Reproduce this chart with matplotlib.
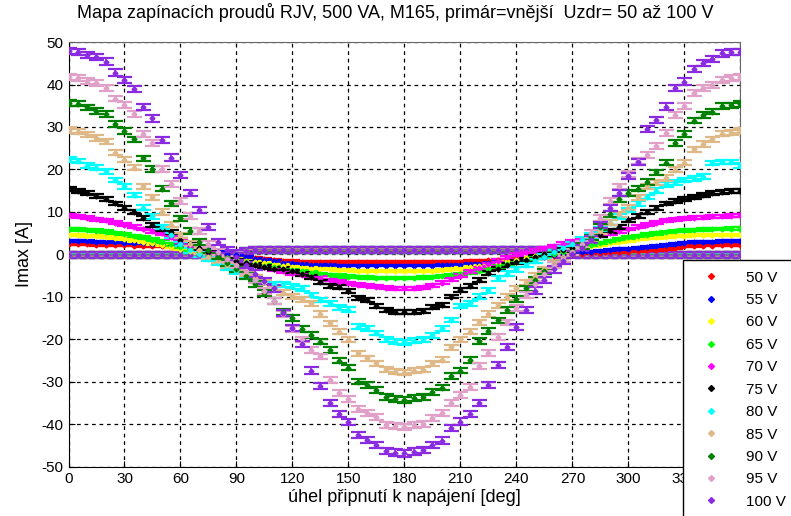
import matplotlib
matplotlib.use("Agg")
import matplotlib.pyplot as plt
from matplotlib.lines import Line2D

plt.rcParams["font.family"] = ["Liberation Sans", "DejaVu Sans"]
plt.rcParams["axes.unicode_minus"] = False

# switching angle [deg]
angle_deg = list(range(0, 361, 5))

# peak inrush current [A] per supply voltage
i_50 = [2.5, 2.4, 2.4, 2.3, 2.3, 2.2, 2.2, 2.1, 2.0, 1.9, 1.9, 1.8, 1.7, 1.4, 1.1, 0.8, 0.5, 0.1, -0.3,
        -0.6, -0.9, -1.1, -1.3, -1.5, -1.6, -1.7, -1.7, -1.7, -1.8, -1.8, -1.8, -1.8, -1.8, -1.8, -1.8,
        -1.8, -1.8, -1.8, -1.8, -1.8, -1.7, -1.7, -1.7, -1.6, -1.5, -1.4, -1.3, -1.2, -1.0, -0.9, -0.7,
        -0.5, -0.3, -0.1, 0.1, 0.2, 0.3, 0.4, 0.5, 0.6, 0.7, 0.8, 1.0, 1.1, 1.3, 1.5, 1.9, 2.0, 2.1,
        2.1, 2.2, 2.2, 2.3]
i_55 = [3.2, 3.1, 3.1, 3.0, 3.0, 2.9, 2.8, 2.7, 2.6, 2.5, 2.4, 2.3, 2.1, 1.8, 1.4, 1.0, 0.6, 0.2, -0.2,
        -0.6, -1.0, -1.3, -1.6, -1.9, -2.1, -2.3, -2.4, -2.5, -2.5, -2.6, -2.6, -2.6, -2.6, -2.6, -2.6,
        -2.6, -2.6, -2.6, -2.6, -2.6, -2.5, -2.5, -2.4, -2.3, -2.2, -2.0, -1.8, -1.6, -1.4, -1.1, -0.8,
        -0.5, -0.2, 0.1, 0.3, 0.5, 0.7, 0.9, 1.1, 1.3, 1.4, 1.6, 1.8, 2.0, 2.2, 2.4, 2.8, 2.9, 3.0,
        3.0, 3.1, 3.1, 3.1]
i_60 = [4.6, 4.5, 4.4, 4.3, 4.1, 3.9, 3.6, 3.3, 3.0, 2.6, 2.2, 1.8, 1.3, 0.9, 0.4, 0.0, -0.4, -0.8,
        -1.1, -1.5, -1.8, -2.1, -2.4, -2.6, -2.9, -3.1, -3.3, -3.4, -3.5, -3.6, -3.7, -3.8, -3.8, -3.9,
        -3.9, -3.9, -3.9, -3.9, -3.8, -3.8, -3.7, -3.5, -3.3, -3.0, -2.7, -2.4, -2.0, -1.6, -1.2, -0.8,
        -0.4, 0.0, 0.4, 0.8, 1.2, 1.6, 2.0, 2.3, 2.7, 3.0, 3.3, 3.6, 3.8, 4.0, 4.2, 4.3, 4.4, 4.5, 4.5,
        4.6, 4.6, 4.6, 4.6]
i_65 = [6.0, 5.9, 5.8, 5.6, 5.4, 5.1, 4.8, 4.4, 4.0, 3.5, 3.0, 2.4, 1.8, 1.2, 0.6, 0.1, -0.4, -0.9,
        -1.3, -1.8, -2.2, -2.6, -3.0, -3.4, -3.7, -4.0, -4.3, -4.6, -4.8, -5.0, -5.2, -5.3, -5.4, -5.5,
        -5.5, -5.5, -5.5, -5.5, -5.4, -5.3, -5.1, -4.9, -4.6, -4.2, -3.8, -3.3, -2.8, -2.3, -1.8, -1.3,
        -0.8, -0.3, 0.2, 0.7, 1.2, 1.7, 2.2, 2.7, 3.2, 3.6, 4.0, 4.4, 4.7, 5.0, 5.3, 5.5, 5.7, 5.8, 5.9,
        6.0, 6.0, 6.1, 6.1]
i_70 = [9.2, 9.0, 8.7, 8.3, 8.0, 7.5, 7.0, 6.5, 6.0, 5.5, 5.0, 4.0, 3.0, 2.0, 1.0, 0.3, -0.3, -1.0,
        -1.5, -2.0, -2.5, -3.0, -3.5, -4.0, -4.4, -4.8, -5.2, -5.5, -6.0, -6.4, -6.8, -7.1, -7.4, -7.6,
        -7.8, -8.0, -8.0, -8.0, -7.7, -7.2, -6.6, -5.8, -5.0, -4.0, -3.2, -2.3, -1.5, -0.7, 0.0, 0.5,
        1.0, 1.5, 2.0, 2.5, 3.0, 3.5, 4.0, 4.5, 5.0, 5.5, 6.0, 6.5, 7.0, 7.5, 8.0, 8.3, 8.5, 8.7, 8.8,
        9.0, 9.0, 9.1, 9.2]
i_75 = [15.5, 15.0, 14.5, 13.8, 13.0, 12.0, 11.0, 10.0, 8.5, 7.0, 6.0, 5.2, 3.5, 2.5, 1.5, 0.5, -0.5,
        -1.0, -1.5, -2.0, -2.5, -3.0, -3.3, -3.3, -4.0, -4.5, -5.2, -6.4, -7.4, -7.7, -8.5, -10.3, -10.7,
        -12.1, -13.1, -13.5, -13.6, -13.5, -13.2, -12.3, -11.9, -9.9, -8.4, -7.4, -6.0, -4.3, -3.3, -2.5,
        -1.8, -1.2, -0.5, 0.0, 0.5, 1.0, 1.5, 2.5, 3.5, 4.5, 5.5, 6.5, 8.0, 9.0, 10.0, 11.0, 12.0, 12.5,
        13.0, 13.5, 14.0, 14.5, 14.8, 15.0, 15.0]
i_80 = [22.4, 22.0, 20.9, 20.4, 19.6, 17.5, 16.0, 14.0, 11.0, 9.0, 6.5, 4.5, 2.5, 1.0, 0.0, -1.0, -2.0,
        -3.0, -4.0, -5.0, -6.0, -6.5, -7.0, -7.0, -7.5, -8.0, -9.5, -10.7, -11.5, -12.4, -13.0, -17.0,
        -17.4, -18.5, -20.0, -20.5, -20.7, -20.3, -20.0, -19.0, -17.4, -15.4, -12.1, -11.5, -9.9, -8.4,
        -5.6, -4.5, -3.5, -2.5, -1.5, -0.5, 0.5, 1.5, 2.5, 3.5, 4.5, 6.0, 7.5, 9.0, 10.5, 12.0, 13.5,
        15.0, 16.5, 17.0, 17.5, 17.9, 18.3, 21.5, 21.8, 21.8, 21.0]
i_85 = [29.3, 28.9, 28.2, 27.4, 26.6, 23.9, 22.3, 20.4, 16.0, 13.5, 10.0, 7.0, 4.5, 2.5, 1.0, -0.5,
        -1.5, -2.5, -3.5, -4.5, -5.5, -6.5, -8.0, -9.0, -9.8, -10.5, -11.5, -14.0, -16.2, -18.2, -20.1,
        -23.2, -24.4, -25.6, -27.0, -27.6, -27.8, -27.3, -27.1, -25.6, -24.8, -21.8, -20.0, -18.2, -16.0,
        -14.0, -12.0, -10.0, -8.0, -6.5, -5.0, -3.5, -2.0, -0.5, 0.5, 2.0, 3.5, 5.5, 7.5, 9.5, 11.0, 13.5,
        16.0, 17.0, 18.0, 19.9, 21.6, 24.8, 26.0, 27.1, 28.4, 28.6, 29.1]
i_90 = [35.7, 35.5, 34.6, 33.8, 33.0, 30.7, 29.1, 27.1, 22.6, 20.1, 15.5, 12.0, 8.5, 5.5, 3.0, 1.0,
        -0.5, -2.0, -3.5, -5.0, -7.0, -9.0, -11.0, -13.5, -15.0, -17.5, -19.0, -20.5, -22.5, -25.0,
        -26.6, -29.9, -30.7, -31.9, -33.5, -34.0, -34.2, -33.8, -33.5, -32.3, -31.3, -28.6, -27.3, -24.8,
        -20.3, -18.0, -15.5, -13.0, -10.5, -8.0, -6.0, -4.0, -2.5, -1.0, 0.5, 2.0, 4.0, 6.5, 9.5, 13.0,
        14.5, 15.5, 17.0, 19.3, 21.6, 26.2, 28.3, 31.5, 32.8, 33.6, 34.9, 35.1, 35.4]
i_95 = [41.8, 41.5, 40.9, 40.3, 39.1, 36.7, 35.2, 33.0, 28.3, 26.2, 20.1, 16.5, 12.5, 9.0, 5.5, 2.5,
        0.5, -1.0, -2.5, -4.0, -6.0, -8.5, -11.0, -14.0, -17.5, -20.0, -22.5, -24.0, -29.5, -32.5, -34.0,
        -36.4, -37.4, -38.3, -40.1, -40.4, -40.5, -40.1, -39.9, -38.5, -37.4, -35.0, -33.0, -31.1, -26.2,
        -23.2, -19.5, -16.0, -12.5, -9.5, -7.0, -4.5, -2.5, -1.0, 0.5, 2.5, 5.0, 8.5, 12.5, 16.0, 19.0,
        22.0, 23.5, 25.5, 28.5, 32.8, 35.0, 37.9, 39.1, 39.9, 41.0, 41.5, 41.8]
i_100 = [47.9, 47.7, 46.9, 46.4, 45.4, 42.8, 41.1, 39.0, 34.7, 32.0, 26.9, 22.8, 18.7, 14.5, 10.5, 6.5,
         3.0, 1.0, -0.5, -2.5, -4.5, -6.2, -8.0, -13.7, -17.3, -21.0, -27.3, -31.0, -34.9, -37.6, -39.4,
         -42.5, -43.6, -44.8, -46.2, -46.6, -46.8, -46.4, -46.0, -44.8, -43.8, -40.9, -39.3, -37.6, -34.9,
         -30.7, -26.0, -21.7, -17.0, -13.0, -8.5, -6.0, -3.5, -1.5, 0.0, 1.5, 3.5, 7.0, 11.0, 14.5, 18.5,
         21.8, 29.5, 31.6, 34.8, 39.2, 40.7, 43.6, 45.0, 46.0, 47.3, 47.7, 47.7]

# opposite-polarity peak (close to zero)
i_reverse = [-0.1, -0.1, -0.1, -0.1, -0.1, -0.1, -0.1, -0.1, -0.1, -0.1, -0.1, -0.1, -0.1, -0.1, -0.1,
             -0.1, -0.1, -0.1, 0.2, 0.8, 1.0, 1.0, 1.0, 1.0, 1.0, 1.0, 1.0, 1.0, 1.0, 1.0, 1.0, 1.0, 1.0,
             1.0, 1.0, 1.0, 1.0, 1.0, 1.0, 1.0, 1.0, 1.0, 1.0, 1.0, 1.0, 1.0, 1.0, 1.0, 1.0, 1.0, 1.0, 1.0,
             1.0, 0.8, 0.2, -0.1, -0.1, -0.1, -0.1, -0.1, -0.1, -0.1, -0.1, -0.1, -0.1, -0.1, -0.1, -0.1,
             -0.1, -0.1, -0.1, -0.1, -0.1]

series_labels = ["50 V", "55 V", "60 V", "65 V", "70 V", "75 V", "80 V", "85 V", "90 V", "95 V", "100 V"]
series_values = [i_50, i_55, i_60, i_65, i_70, i_75, i_80, i_85, i_90, i_95, i_100]
series_err = [0.2, 0.2, 0.25, 0.3, 0.35, 0.45, 0.55, 0.6, 0.65, 0.7, 0.75]
series_colors = ["#ff0000", "#0000ff", "#ffff00", "#00ff00", "#ff00ff", "#000000",
                 "#00ffff", "#dfb887", "#008000", "#e0a0c8", "#8a2be2"]

x_ticks = list(range(0, 361, 30))
# the last angle label sits under the legend box
x_ticklabels = [str(t) for t in x_ticks[:-1]] + [""]
y_ticks = list(range(-50, 51, 10))

fig = plt.figure(figsize=(7.91, 5.16), dpi=100)
ax = fig.add_axes([0.0866, 0.095, 0.8495, 0.8236])

for vals, err, col in zip(series_values, series_err, series_colors):
    ax.errorbar(angle_deg, i_reverse, yerr=err, fmt="D", ms=2.5, color=col,
                ecolor=col, elinewidth=1.2, capsize=5.4, capthick=1.6, zorder=3)
for vals, err, col in zip(series_values, series_err, series_colors):
    ax.errorbar(angle_deg, vals, yerr=err, fmt="D", ms=2.5, color=col,
                ecolor=col, elinewidth=1.2, capsize=5.4, capthick=1.6, zorder=3)

ax.set_xlim(0, 360)
ax.set_ylim(-50, 50)
ax.set_xticks(x_ticks)
ax.set_xticklabels(x_ticklabels)
ax.set_yticks(y_ticks)
ax.tick_params(direction="in", length=4, labelsize=11, colors="black", top=False, right=False)
ax.grid(True, color="black", linestyle=(0, (3, 3)), linewidth=0.9)
ax.set_axisbelow(True)
for side in ("top", "right"):
    ax.spines[side].set_color("#666666")
for side in ("left", "bottom"):
    ax.spines[side].set_color("black")

fig.text(0.5, 1 - 13 / 516, "Mapa zapínacích proudů RJV, 500 VA, M165, primár=vnější  Uzdr= 50 až 100 V",
         fontsize=13, ha="center", va="center")
ax.set_xlabel("úhel připnutí k napájení [deg]", fontsize=13, labelpad=2)
ax.set_ylabel("Imax [A]", fontsize=13, labelpad=6)

handles = [Line2D([], [], linestyle="none", marker="D", ms=3, color=c) for c in series_colors]
leg = fig.legend(handles, series_labels, loc="upper left", bbox_to_anchor=(683 / 791, 1 - 260 / 516),
                 frameon=True, fancybox=False, framealpha=1, edgecolor="black", fontsize=11,
                 handlelength=2.2, handletextpad=1.2, labelspacing=0.55, borderpad=0.7,
                 borderaxespad=0)
leg.get_frame().set_linewidth(1.0)
leg.set_zorder(10)

fig.savefig("out.png", dpi=100)
